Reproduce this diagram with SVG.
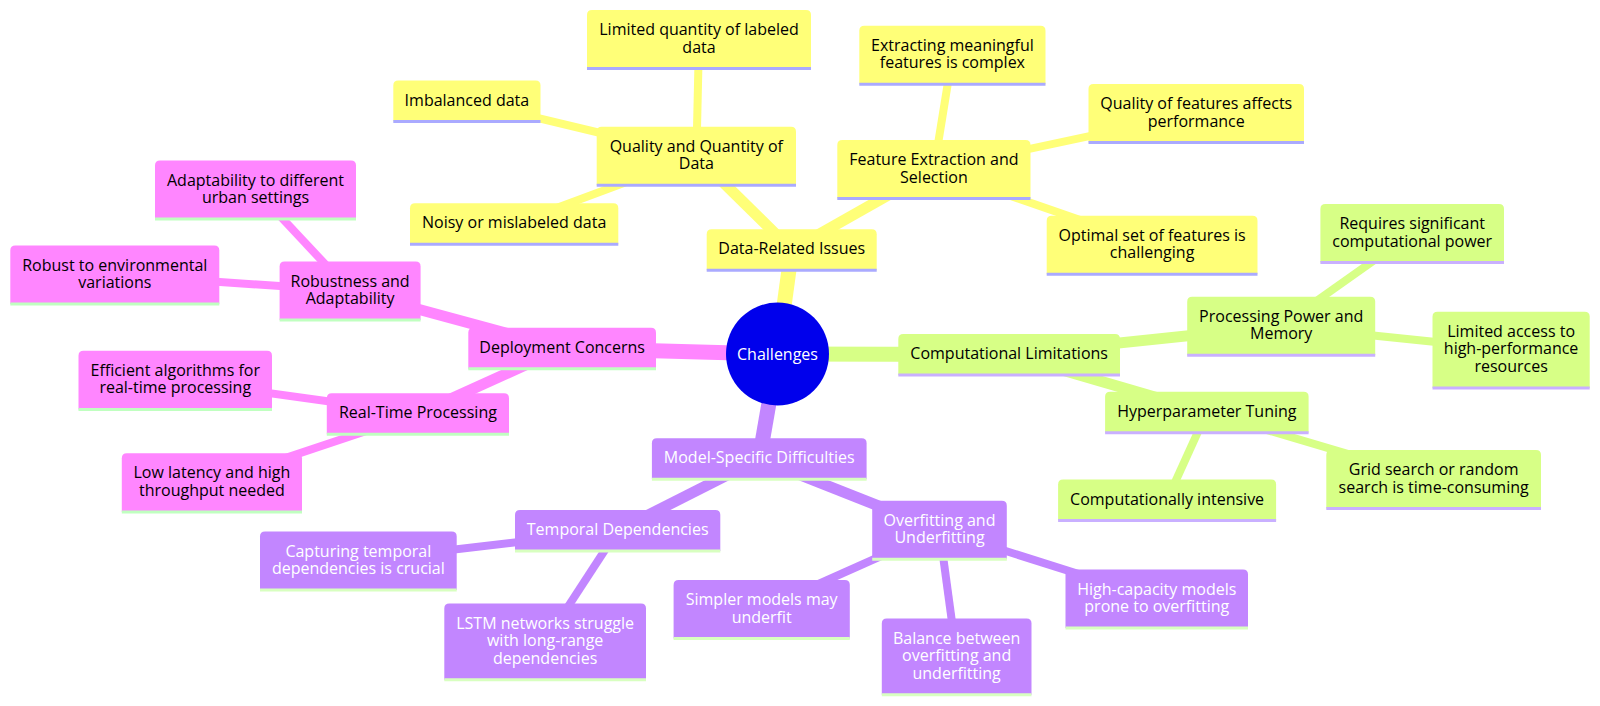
<svg xmlns="http://www.w3.org/2000/svg" width="1600" height="706" viewBox="0 0 1600 706">
<style>
text{font-family:"Open Sans","Liberation Sans",sans-serif;font-size:16px;text-anchor:middle}
.e{fill:none}
.d1{stroke-width:15}.d2{stroke-width:11}.d3{stroke-width:8}
.ey{stroke:#ffff78}.eg{stroke:#d7ff86}.ep{stroke:#c286ff}.ek{stroke:#ff86ff}
.s0 path{fill:#ffff78}.s0 line{stroke:#aaaaff;stroke-width:3}.s0 text{fill:#000}
.s1 path{fill:#d7ff86}.s1 line{stroke:#c9b0ff;stroke-width:3}.s1 text{fill:#000}
.s2 path{fill:#c286ff}.s2 line{stroke:#d8ffc0;stroke-width:3}.s2 text{fill:#fff}
.s3 path{fill:#ff86ff}.s3 line{stroke:#c0ffc0;stroke-width:3}.s3 text{fill:#000}
</style>
<rect width="1600" height="706" fill="#fff"/>
<g id="connectors">
<line class="e d1 ey" x1="777.5" y1="354" x2="791.7" y2="249.8"/>
<line class="e d1 eg" x1="777.5" y1="354" x2="1009.2" y2="354.5"/>
<line class="e d1 ep" x1="777.5" y1="354" x2="759.3" y2="458.8"/>
<line class="e d1 ek" x1="777.5" y1="354" x2="562.2" y2="348.2"/>
<line class="e d2 ey" x1="791.7" y1="249.8" x2="696.4" y2="156"/>
<line class="e d2 ey" x1="791.7" y1="249.8" x2="933.9" y2="169.3"/>
<line class="e d2 eg" x1="1009.2" y1="354.5" x2="1281.2" y2="326"/>
<line class="e d2 eg" x1="1009.2" y1="354.5" x2="1206.9" y2="412.2"/>
<line class="e d2 ep" x1="759.3" y1="458.8" x2="617.7" y2="530.5"/>
<line class="e d2 ep" x1="759.3" y1="458.8" x2="939.5" y2="530"/>
<line class="e d2 ek" x1="562.2" y1="348.2" x2="350.1" y2="290.8"/>
<line class="e d2 ek" x1="562.2" y1="348.2" x2="417.9" y2="413.8"/>
<line class="e d3 ey" x1="696.4" y1="156" x2="699" y2="39.3"/>
<line class="e d3 ey" x1="696.4" y1="156" x2="466.9" y2="101"/>
<line class="e d3 ey" x1="696.4" y1="156" x2="514.2" y2="223.8"/>
<line class="e d3 ey" x1="933.9" y1="169.3" x2="952.4" y2="55"/>
<line class="e d3 ey" x1="933.9" y1="169.3" x2="1196.3" y2="113.3"/>
<line class="e d3 ey" x1="933.9" y1="169.3" x2="1152.1" y2="245"/>
<line class="e d3 eg" x1="1281.2" y1="326" x2="1412.2" y2="233.3"/>
<line class="e d3 eg" x1="1281.2" y1="326" x2="1511.1" y2="349.8"/>
<line class="e d3 eg" x1="1206.9" y1="412.2" x2="1167" y2="500"/>
<line class="e d3 eg" x1="1206.9" y1="412.2" x2="1433.7" y2="479.3"/>
<line class="e d3 ep" x1="617.7" y1="530.5" x2="358.4" y2="560.8"/>
<line class="e d3 ep" x1="617.7" y1="530.5" x2="545.2" y2="641.6"/>
<line class="e d3 ep" x1="939.5" y1="530" x2="761.7" y2="609.3"/>
<line class="e d3 ep" x1="939.5" y1="530" x2="956.7" y2="656.7"/>
<line class="e d3 ep" x1="939.5" y1="530" x2="1156.8" y2="598.8"/>
<line class="e d3 ek" x1="350.1" y1="290.8" x2="255.5" y2="189.8"/>
<line class="e d3 ek" x1="350.1" y1="290.8" x2="114.9" y2="274.8"/>
<line class="e d3 ek" x1="417.9" y1="413.8" x2="175.3" y2="380.1"/>
<line class="e d3 ek" x1="417.9" y1="413.8" x2="211.9" y2="482.6"/>
</g>

<g id="root">
<circle cx="777.5" cy="354" r="51.5" fill="#0000ec"/>
<text x="777.5" y="359.5" fill="#fff">Challenges</text>
</g>

<!-- Yellow section -->
<g id="data-related" class="s0" transform="translate(706.7,229.3)">
<path d="M0,41V5Q0,0 5,0H165Q170,0 170,5V41Z"/><line x1="0" y1="41" x2="170" y2="41"/>
<text x="85" y="25">Data-Related Issues</text></g>
<g id="quality-quantity" class="s0" transform="translate(596.7,126.7)">
<path d="M0,58.6V5Q0,0 5,0H194.3Q199.3,0 199.3,5V58.6Z"/><line x1="0" y1="58.6" x2="199.3" y2="58.6"/>
<text x="99.65" y="25">Quality and Quantity of<tspan x="99.65" dy="17.6">Data</tspan></text></g>
<g id="limited-quantity" class="s0" transform="translate(587,10)">
<path d="M0,58.6V5Q0,0 5,0H219Q224,0 224,5V58.6Z"/><line x1="0" y1="58.6" x2="224" y2="58.6"/>
<text x="112" y="25">Limited quantity of labeled<tspan x="112" dy="17.6">data</tspan></text></g>
<g id="imbalanced" class="s0" transform="translate(393.3,80.5)">
<path d="M0,41V5Q0,0 5,0H142.2Q147.2,0 147.2,5V41Z"/><line x1="0" y1="41" x2="147.2" y2="41"/>
<text x="73.6" y="25">Imbalanced data</text></g>
<g id="noisy" class="s0" transform="translate(410,203.3)">
<path d="M0,41V5Q0,0 5,0H203.3Q208.3,0 208.3,5V41Z"/><line x1="0" y1="41" x2="208.3" y2="41"/>
<text x="104.15" y="25">Noisy or mislabeled data</text></g>
<g id="feature-extraction" class="s0" transform="translate(837.3,140)">
<path d="M0,58.6V5Q0,0 5,0H188.2Q193.2,0 193.2,5V58.6Z"/><line x1="0" y1="58.6" x2="193.2" y2="58.6"/>
<text x="96.6" y="25">Feature Extraction and<tspan x="96.6" dy="17.6">Selection</tspan></text></g>
<g id="extracting" class="s0" transform="translate(859.3,25.7)">
<path d="M0,58.6V5Q0,0 5,0H181.2Q186.2,0 186.2,5V58.6Z"/><line x1="0" y1="58.6" x2="186.2" y2="58.6"/>
<text x="93.1" y="25">Extracting meaningful<tspan x="93.1" dy="17.6">features is complex</tspan></text></g>
<g id="quality-features" class="s0" transform="translate(1088.5,84)">
<path d="M0,58.6V5Q0,0 5,0H210.5Q215.5,0 215.5,5V58.6Z"/><line x1="0" y1="58.6" x2="215.5" y2="58.6"/>
<text x="107.75" y="25">Quality of features affects<tspan x="107.75" dy="17.6">performance</tspan></text></g>
<g id="optimal-set" class="s0" transform="translate(1046.7,215.7)">
<path d="M0,58.6V5Q0,0 5,0H205.8Q210.8,0 210.8,5V58.6Z"/><line x1="0" y1="58.6" x2="210.8" y2="58.6"/>
<text x="105.4" y="25">Optimal set of features is<tspan x="105.4" dy="17.6">challenging</tspan></text></g>

<!-- Green section -->
<g id="computational" class="s1" transform="translate(898.3,334)">
<path d="M0,41V5Q0,0 5,0H216.7Q221.7,0 221.7,5V41Z"/><line x1="0" y1="41" x2="221.7" y2="41"/>
<text x="110.85" y="25">Computational Limitations</text></g>
<g id="processing-power" class="s1" transform="translate(1187.2,296.7)">
<path d="M0,58.6V5Q0,0 5,0H183Q188,0 188,5V58.6Z"/><line x1="0" y1="58.6" x2="188" y2="58.6"/>
<text x="94" y="25">Processing Power and<tspan x="94" dy="17.6">Memory</tspan></text></g>
<g id="requires-power" class="s1" transform="translate(1320.4,204)">
<path d="M0,58.6V5Q0,0 5,0H178.6Q183.6,0 183.6,5V58.6Z"/><line x1="0" y1="58.6" x2="183.6" y2="58.6"/>
<text x="91.8" y="25">Requires significant<tspan x="91.8" dy="17.6">computational power</tspan></text></g>
<g id="limited-access" class="s1" transform="translate(1432.5,311.7)">
<path d="M0,76.2V5Q0,0 5,0H152.2Q157.2,0 157.2,5V76.2Z"/><line x1="0" y1="76.2" x2="157.2" y2="76.2"/>
<text x="78.6" y="25">Limited access to<tspan x="78.6" dy="17.6">high-performance</tspan><tspan x="78.6" dy="17.6">resources</tspan></text></g>
<g id="hyperparameter" class="s1" transform="translate(1105.1,391.7)">
<path d="M0,41V5Q0,0 5,0H198.5Q203.5,0 203.5,5V41Z"/><line x1="0" y1="41" x2="203.5" y2="41"/>
<text x="101.75" y="25">Hyperparameter Tuning</text></g>
<g id="computationally-intensive" class="s1" transform="translate(1058.1,479.5)">
<path d="M0,41V5Q0,0 5,0H213Q218,0 218,5V41Z"/><line x1="0" y1="41" x2="218" y2="41"/>
<text x="109" y="25">Computationally intensive</text></g>
<g id="grid-search" class="s1" transform="translate(1326.3,450)">
<path d="M0,58.6V5Q0,0 5,0H209.7Q214.7,0 214.7,5V58.6Z"/><line x1="0" y1="58.6" x2="214.7" y2="58.6"/>
<text x="107.35" y="25">Grid search or random<tspan x="107.35" dy="17.6">search is time-consuming</tspan></text></g>

<!-- Purple section -->
<g id="model-specific" class="s2" transform="translate(651.9,438.3)">
<path d="M0,41V5Q0,0 5,0H209.7Q214.7,0 214.7,5V41Z"/><line x1="0" y1="41" x2="214.7" y2="41"/>
<text x="107.35" y="25">Model-Specific Difficulties</text></g>
<g id="temporal" class="s2" transform="translate(515,510)">
<path d="M0,41V5Q0,0 5,0H200.3Q205.3,0 205.3,5V41Z"/><line x1="0" y1="41" x2="205.3" y2="41"/>
<text x="102.65" y="25">Temporal Dependencies</text></g>
<g id="capturing" class="s2" transform="translate(260,531.5)">
<path d="M0,58.6V5Q0,0 5,0H191.7Q196.7,0 196.7,5V58.6Z"/><line x1="0" y1="58.6" x2="196.7" y2="58.6"/>
<text x="98.35" y="25">Capturing temporal<tspan x="98.35" dy="17.6">dependencies is crucial</tspan></text></g>
<g id="lstm" class="s2" transform="translate(444.3,603.5)">
<path d="M0,76.2V5Q0,0 5,0H196.7Q201.7,0 201.7,5V76.2Z"/><line x1="0" y1="76.2" x2="201.7" y2="76.2"/>
<text x="100.85" y="25">LSTM networks struggle<tspan x="100.85" dy="17.6">with long-range</tspan><tspan x="100.85" dy="17.6">dependencies</tspan></text></g>
<g id="overfitting" class="s2" transform="translate(872.2,500.7)">
<path d="M0,58.6V5Q0,0 5,0H129.6Q134.6,0 134.6,5V58.6Z"/><line x1="0" y1="58.6" x2="134.6" y2="58.6"/>
<text x="67.3" y="25">Overfitting and<tspan x="67.3" dy="17.6">Underfitting</tspan></text></g>
<g id="simpler" class="s2" transform="translate(673.6,580)">
<path d="M0,58.6V5Q0,0 5,0H171.2Q176.2,0 176.2,5V58.6Z"/><line x1="0" y1="58.6" x2="176.2" y2="58.6"/>
<text x="88.1" y="25">Simpler models may<tspan x="88.1" dy="17.6">underfit</tspan></text></g>
<g id="balance" class="s2" transform="translate(881.8,618.6)">
<path d="M0,76.2V5Q0,0 5,0H144.7Q149.7,0 149.7,5V76.2Z"/><line x1="0" y1="76.2" x2="149.7" y2="76.2"/>
<text x="74.85" y="25">Balance between<tspan x="74.85" dy="17.6">overfitting and</tspan><tspan x="74.85" dy="17.6">underfitting</tspan></text></g>
<g id="high-capacity" class="s2" transform="translate(1065.5,569.5)">
<path d="M0,58.6V5Q0,0 5,0H177.5Q182.5,0 182.5,5V58.6Z"/><line x1="0" y1="58.6" x2="182.5" y2="58.6"/>
<text x="91.25" y="25">High-capacity models<tspan x="91.25" dy="17.6">prone to overfitting</tspan></text></g>

<!-- Pink section -->
<g id="deployment" class="s3" transform="translate(468.3,327.7)">
<path d="M0,41V5Q0,0 5,0H182.7Q187.7,0 187.7,5V41Z"/><line x1="0" y1="41" x2="187.7" y2="41"/>
<text x="93.85" y="25">Deployment Concerns</text></g>
<g id="robustness" class="s3" transform="translate(279.6,261.5)">
<path d="M0,58.6V5Q0,0 5,0H136Q141,0 141,5V58.6Z"/><line x1="0" y1="58.6" x2="141" y2="58.6"/>
<text x="70.5" y="25">Robustness and<tspan x="70.5" dy="17.6">Adaptability</tspan></text></g>
<g id="adaptability" class="s3" transform="translate(155,160.5)">
<path d="M0,58.6V5Q0,0 5,0H196Q201,0 201,5V58.6Z"/><line x1="0" y1="58.6" x2="201" y2="58.6"/>
<text x="100.5" y="25">Adaptability to different<tspan x="100.5" dy="17.6">urban settings</tspan></text></g>
<g id="robust-env" class="s3" transform="translate(10.3,245.5)">
<path d="M0,58.6V5Q0,0 5,0H204Q209,0 209,5V58.6Z"/><line x1="0" y1="58.6" x2="209" y2="58.6"/>
<text x="104.5" y="25">Robust to environmental<tspan x="104.5" dy="17.6">variations</tspan></text></g>
<g id="real-time" class="s3" transform="translate(326.8,393.3)">
<path d="M0,41V5Q0,0 5,0H177.2Q182.2,0 182.2,5V41Z"/><line x1="0" y1="41" x2="182.2" y2="41"/>
<text x="91.1" y="25">Real-Time Processing</text></g>
<g id="efficient" class="s3" transform="translate(78.5,350.8)">
<path d="M0,58.6V5Q0,0 5,0H188.5Q193.5,0 193.5,5V58.6Z"/><line x1="0" y1="58.6" x2="193.5" y2="58.6"/>
<text x="96.75" y="25">Efficient algorithms for<tspan x="96.75" dy="17.6">real-time processing</tspan></text></g>
<g id="low-latency" class="s3" transform="translate(121.8,453.3)">
<path d="M0,58.6V5Q0,0 5,0H175.2Q180.2,0 180.2,5V58.6Z"/><line x1="0" y1="58.6" x2="180.2" y2="58.6"/>
<text x="90.1" y="25">Low latency and high<tspan x="90.1" dy="17.6">throughput needed</tspan></text></g>
</svg>
